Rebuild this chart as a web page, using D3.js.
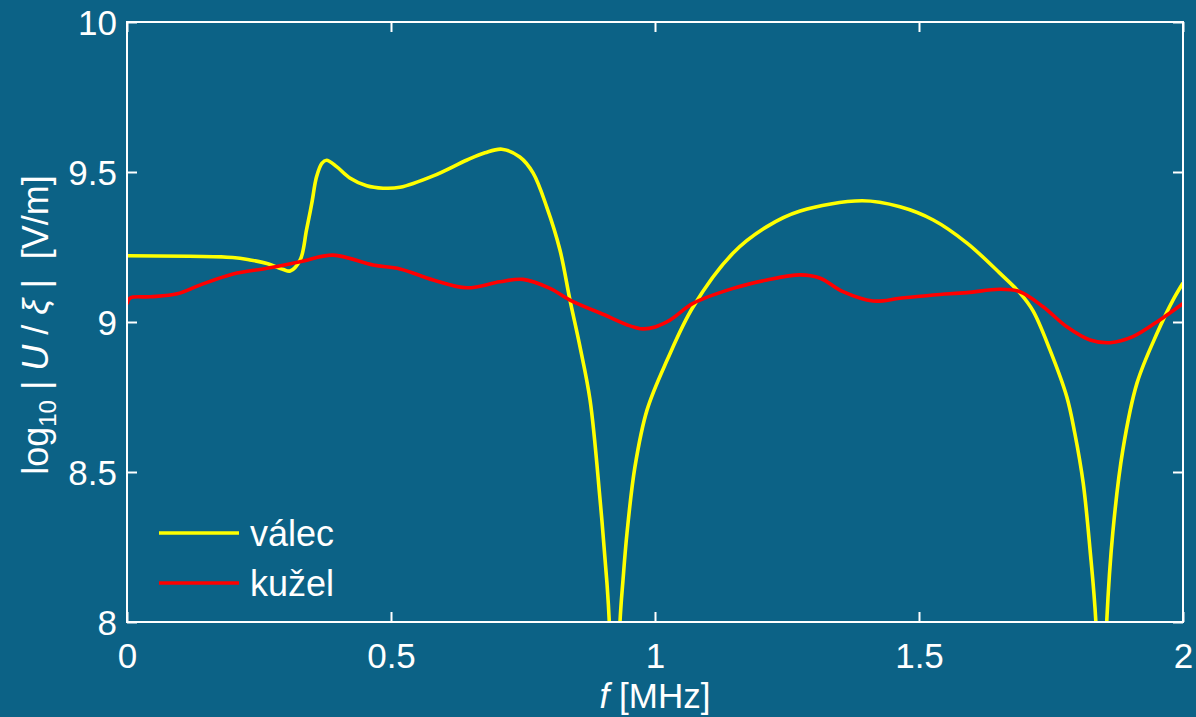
<!DOCTYPE html>
<html>
<head>
<meta charset="utf-8">
<script src="https://cdn.jsdelivr.net/npm/d3@7"></script>
<style>
  html, body { margin: 0; padding: 0; background: #0c6286; }
  svg { display: block; }
  text { font-family: "Liberation Sans", Arial, Helvetica, sans-serif; fill: #ffffff; }
</style>
</head>
<body>
<svg id="chart" width="1196" height="717"></svg>
<script>
// Frequency axis (MHz) and log10 |U/xi| for the cylinder ("válec") antenna
const valecF = [0, 0.2, 0.233, 0.265, 0.296, 0.309, 0.328, 0.34, 0.35, 0.359, 0.369, 0.378, 0.397,
  0.422, 0.454, 0.485, 0.517, 0.58, 0.644, 0.678, 0.71, 0.744, 0.769, 0.795, 0.82, 0.839, 0.858,
  0.877, 0.896, 0.909, 0.9135, 0.9235, 0.9337, 0.9394, 0.947, 0.962, 0.985, 1.023, 1.072, 1.148,
  1.212, 1.275, 1.392, 1.464, 1.527, 1.591, 1.653, 1.691, 1.716, 1.748, 1.78, 1.795, 1.811, 1.824,
  1.835, 1.845, 1.8555, 1.867, 1.886, 1.913, 1.951, 1.981, 2.0];
const valecU = [9.221, 9.215, 9.207, 9.195, 9.175, 9.17, 9.207, 9.307, 9.396, 9.484, 9.529, 9.539, 9.518,
  9.48, 9.454, 9.446, 9.449, 9.487, 9.54, 9.564, 9.576, 9.55, 9.497, 9.383, 9.24, 9.073, 8.917,
  8.74, 8.407, 8.13, 7.998, 7.4, 8.0, 8.14, 8.297, 8.517, 8.707, 8.873, 9.05, 9.23,
  9.318, 9.37, 9.404, 9.384, 9.34, 9.263, 9.163, 9.097, 9.037, 8.907, 8.75, 8.63, 8.463, 8.24,
  8.0, 7.4, 8.0, 8.297, 8.573, 8.797, 8.963, 9.073, 9.13];

// Same quantity for the cone ("kužel") antenna
const kuzelF = [0, 0.006, 0.044, 0.095, 0.138, 0.201, 0.265, 0.328, 0.39, 0.466, 0.517, 0.58, 0.644,
  0.706, 0.75, 0.801, 0.839, 0.896, 0.977, 1.023, 1.072, 1.148, 1.212, 1.275, 1.313, 1.356, 1.413,
  1.464, 1.527, 1.591, 1.653, 1.691, 1.735, 1.78, 1.824, 1.862, 1.905, 1.956, 2.0];
const kuzelU = [9.06, 9.08, 9.084, 9.094, 9.123, 9.16, 9.179, 9.201, 9.223, 9.19, 9.177, 9.14, 9.114,
  9.134, 9.142, 9.112, 9.073, 9.03, 8.977, 9.001, 9.062, 9.112, 9.14, 9.157, 9.146, 9.101, 9.07,
  9.079, 9.09, 9.098, 9.109, 9.101, 9.051, 8.984, 8.94, 8.931, 8.951, 9.007, 9.062];

const xTicks = [0, 0.5, 1, 1.5, 2];
const yTicks = [8, 8.5, 9, 9.5, 10];
const seriesNames = ["válec", "kužel"];
const seriesColors = ["#ffff00", "#ff0000"];

const svg = d3.select("#chart");
const margin = { left: 127, right: 13, top: 22, bottom: 95 };
const W = 1196, H = 717;
const x = d3.scaleLinear().domain([0, 2]).range([margin.left, W - margin.right]);
const y = d3.scaleLinear().domain([8, 10]).range([H - margin.bottom, margin.top]);

svg.append("defs").append("clipPath").attr("id", "plotClip")
  .append("rect")
  .attr("x", x(0)).attr("y", y(10))
  .attr("width", x(2) - x(0)).attr("height", y(8) - y(10));

const line = d3.line()
  .x(d => x(d[0]))
  .y(d => y(d[1]))
  .curve(d3.curveCatmullRom.alpha(0.5));

const series = [
  d3.zip(valecF, valecU),
  d3.zip(kuzelF, kuzelU)
];

const plot = svg.append("g").attr("clip-path", "url(#plotClip)");
series.forEach((s, i) => {
  plot.append("path")
    .datum(s)
    .attr("d", line)
    .attr("fill", "none")
    .attr("stroke", seriesColors[i])
    .attr("stroke-width", 3.6)
    .attr("stroke-linejoin", "round");
});

// Axes: ticks point inward on all four sides
const tickLen = 10;
const fs = 35;
const axisStyle = g => {
  g.select(".domain").remove();
  g.selectAll(".tick line").attr("stroke", "#ffffff").attr("stroke-width", 2);
};

svg.append("g")
  .attr("transform", `translate(0,${y(8)})`)
  .call(d3.axisBottom(x).tickValues(xTicks).tickSize(-tickLen).tickFormat(d3.format("")))
  .call(axisStyle)
  .call(g => g.selectAll("text").attr("font-size", fs).attr("fill", "#fff").attr("dy", "0.71em").attr("y", 21));

svg.append("g")
  .attr("transform", `translate(0,${y(10)})`)
  .call(d3.axisTop(x).tickValues(xTicks).tickSize(-tickLen).tickFormat(""))
  .call(axisStyle);

svg.append("g")
  .attr("transform", `translate(${x(0)},0)`)
  .call(d3.axisLeft(y).tickValues(yTicks).tickSize(-tickLen).tickFormat(d3.format("")))
  .call(axisStyle)
  .call(g => g.selectAll("text").attr("font-size", fs).attr("fill", "#fff").attr("x", -10).attr("dy", "0.36em"));

svg.append("g")
  .attr("transform", `translate(${x(2)},0)`)
  .call(d3.axisRight(y).tickValues(yTicks).tickSize(-tickLen).tickFormat(""))
  .call(axisStyle);

// Frame
svg.append("rect")
  .attr("x", x(0)).attr("y", y(10))
  .attr("width", x(2) - x(0)).attr("height", y(8) - y(10))
  .attr("fill", "none").attr("stroke", "#ffffff").attr("stroke-width", 2);

// Axis titles
const xl = svg.append("text")
  .attr("x", (x(0) + x(2)) / 2).attr("y", 708)
  .attr("text-anchor", "middle").attr("font-size", fs);
xl.append("tspan").attr("font-style", "italic").text("f");
xl.append("tspan").text(" [MHz]");

const yl = svg.append("text")
  .attr("transform", `translate(48,${(y(8) + y(10)) / 2 + 3}) rotate(-90)`)
  .attr("text-anchor", "middle").attr("font-size", 36)
  .attr("xml:space", "preserve");
yl.append("tspan").text("log");
yl.append("tspan").attr("font-size", 24).attr("dy", 8).text("10");
yl.append("tspan").attr("dy", -8).attr("font-weight", 300).text(" | ");
yl.append("tspan").attr("font-style", "italic").text("U");
yl.append("tspan").text(" / ");
yl.append("tspan").attr("font-style", "italic").text("ξ");
yl.append("tspan").text(" |  [V/m]");

// Legend
const legend = svg.append("g");
seriesNames.forEach((name, i) => {
  const ly = 533 + i * 50;
  legend.append("line")
    .attr("x1", 159).attr("x2", 239).attr("y1", ly).attr("y2", ly)
    .attr("stroke", seriesColors[i]).attr("stroke-width", 3.6);
  legend.append("text")
    .attr("x", 250).attr("y", ly).attr("dy", "0.36em")
    .attr("font-size", 36).text(name);
});
</script>
</body>
</html>
